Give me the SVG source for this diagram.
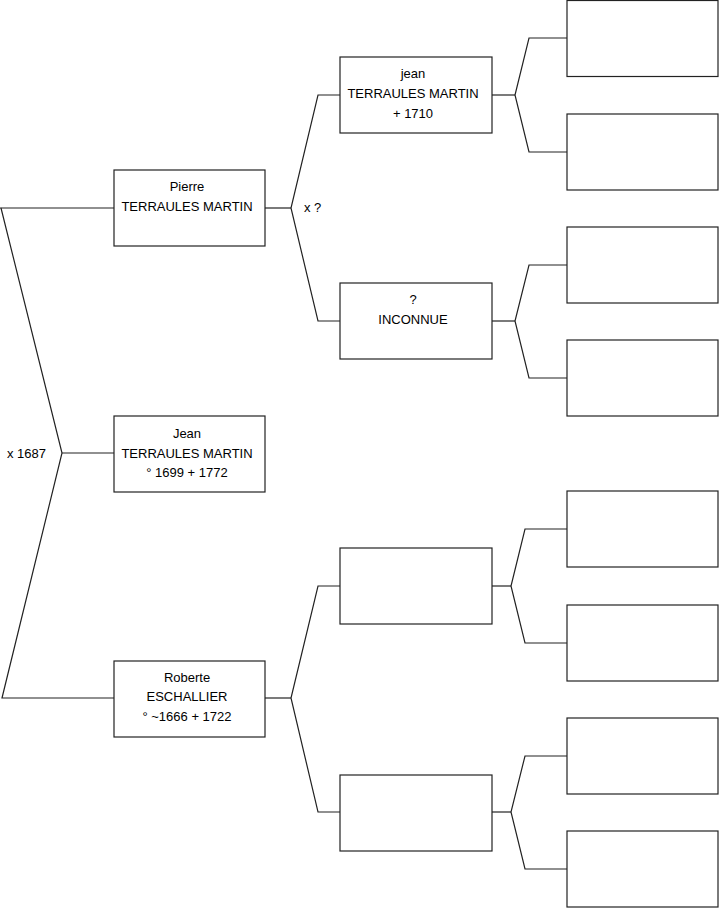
<svg xmlns="http://www.w3.org/2000/svg" width="719" height="908" viewBox="0 0 719 908">
<style>
.box{fill:#fff;stroke:#222;stroke-width:1.2}
.ln{fill:none;stroke:#222;stroke-width:1.2}
text{font-family:"Liberation Sans",Arial,sans-serif;font-size:13px;fill:#000}
.c{text-anchor:middle}
</style>
<rect width="719" height="908" fill="#fff"/>
<g id="connectors">
<polyline class="ln" points="0,208 114,208"/>
<polyline class="ln" points="1,208 62,453 2,698 114,698"/>
<polyline class="ln" points="62,453 114,453"/>
<polyline class="ln" points="265,208 291,208"/>
<polyline class="ln" points="340,95 318,95 291,208 318,321 340,321"/>
<polyline class="ln" points="265,698 291,698"/>
<polyline class="ln" points="340,586 318,586 291,698 318,812 340,812"/>
<polyline class="ln" points="492,95 515,95"/>
<polyline class="ln" points="567,38 529,38 515,95 529,152 567,152"/>
<polyline class="ln" points="492,321 515,321"/>
<polyline class="ln" points="567,265 529,265 515,321 529,378 567,378"/>
<polyline class="ln" points="492,586 511,586"/>
<polyline class="ln" points="567,529 525,529 511,586 525,643 567,643"/>
<polyline class="ln" points="492,812 511,812"/>
<polyline class="ln" points="567,756 525,756 511,812 525,869 567,869"/>
</g>
<g id="label-x1687"><text x="7" y="458">x 1687</text></g>
<g id="label-xq"><text x="304" y="212">x ?</text></g>
<g id="jean-root">
<rect class="box" x="114" y="416" width="151" height="76"/>
<text class="c" x="187" y="438">Jean</text>
<text class="c" x="187" y="458">TERRAULES MARTIN</text>
<text class="c" x="187" y="477">° 1699 + 1772</text>
</g>
<g id="pierre">
<rect class="box" x="114" y="170" width="151" height="76"/>
<text class="c" x="187" y="191">Pierre</text>
<text class="c" x="187" y="211">TERRAULES MARTIN</text>
</g>
<g id="roberte">
<rect class="box" x="114" y="661" width="151" height="76"/>
<text class="c" x="187" y="682">Roberte</text>
<text class="c" x="187" y="701">ESCHALLIER</text>
<text class="c" x="187" y="721">° ~1666 + 1722</text>
</g>
<g id="jean-1710">
<rect class="box" x="340" y="57" width="152" height="76"/>
<text class="c" x="413" y="78">jean</text>
<text class="c" x="413" y="98">TERRAULES MARTIN</text>
<text class="c" x="413" y="118">+ 1710</text>
</g>
<g id="inconnue">
<rect class="box" x="340" y="283" width="152" height="76"/>
<text class="c" x="413" y="304">?</text>
<text class="c" x="413" y="324">INCONNUE</text>
</g>
<g id="empty-2a"><rect class="box" x="340" y="548" width="152" height="76"/></g>
<g id="empty-2b"><rect class="box" x="340" y="775" width="152" height="76"/></g>
<g id="empty-3a"><rect class="box" x="567" y="0.5" width="151" height="76"/></g>
<g id="empty-3b"><rect class="box" x="567" y="114" width="151" height="76"/></g>
<g id="empty-3c"><rect class="box" x="567" y="227" width="151" height="76"/></g>
<g id="empty-3d"><rect class="box" x="567" y="340" width="151" height="76"/></g>
<g id="empty-3e"><rect class="box" x="567" y="491" width="151" height="76"/></g>
<g id="empty-3f"><rect class="box" x="567" y="605" width="151" height="76"/></g>
<g id="empty-3g"><rect class="box" x="567" y="718" width="151" height="76"/></g>
<g id="empty-3h"><rect class="box" x="567" y="831" width="151" height="76"/></g>
</svg>
